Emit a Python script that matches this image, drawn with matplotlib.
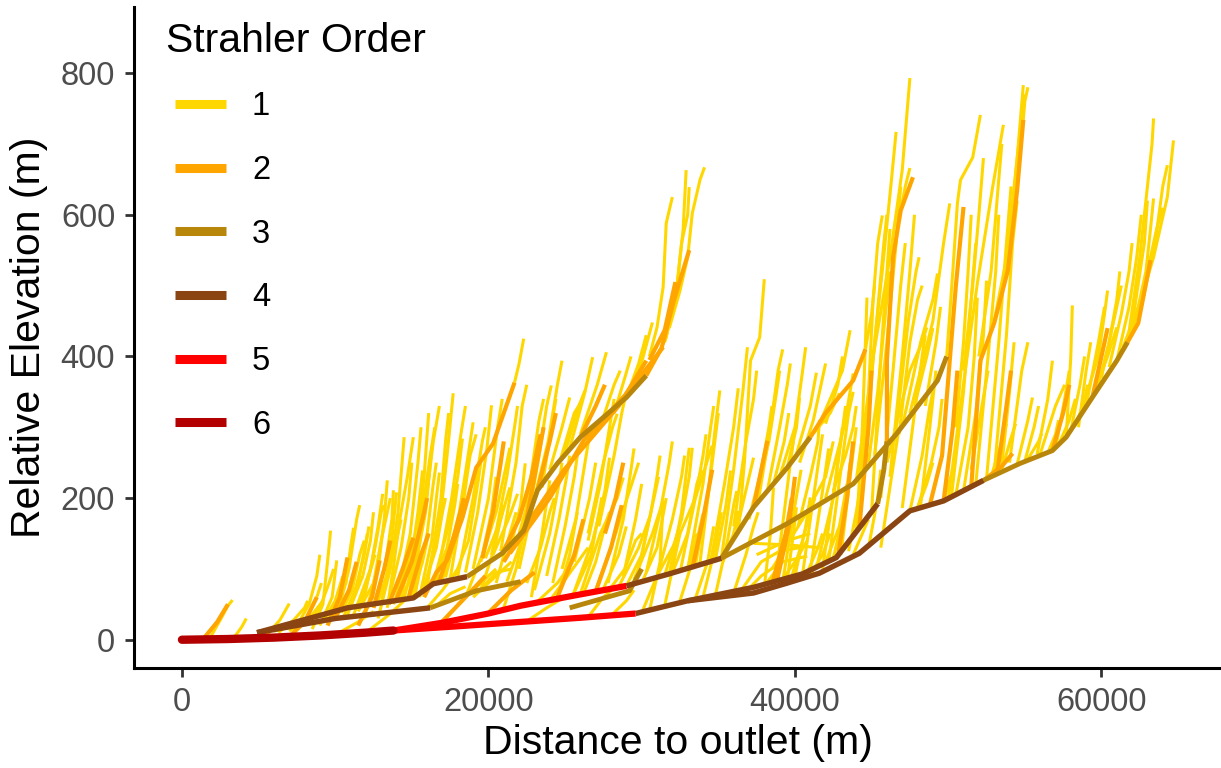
import matplotlib
matplotlib.use("Agg")
import matplotlib.pyplot as plt
from matplotlib.lines import Line2D

plt.rcParams['font.family'] = ['Liberation Sans', 'DejaVu Sans']

# Strahler order -> colour / line width (pt)
orders = [1, 2, 3, 4, 5, 6]
order_colors = ['#FFD700', '#FFA500', '#B8860B', '#8B4513', '#FF0000', '#B30000']
order_widths = [2.2, 3.0, 3.5, 3.9, 4.5, 6.0]

# reaches: lists of (distance to outlet in km, relative elevation in m)
order6_reaches = [
    [(0, 0), (3, 1), (6, 3), (9, 6), (12, 10), (13.8, 13)],
]

order5_reaches = [
    [(13.8, 13), (18, 19), (22, 25), (26, 31), (29.6, 37)],
    [(13.8, 13), (17, 24), (20, 37), (22.1, 48), (25.5, 62), (29, 76)],
]

order4_reaches = [
    [(4.9, 10), (10.8, 45), (15.1, 59), (16.4, 79), (18.6, 89)],
    [(4.9, 10), (10, 30), (16.2, 45)],
    [(29, 76), (31.8, 93), (35.2, 115)],
    [(29.6, 37), (33, 55), (37.3, 66), (39.5, 80), (41.6, 94), (44.2, 122),
     (47.5, 182), (49.7, 196), (52.3, 225)],
    [(33, 55), (37.3, 74), (40.5, 93), (42.7, 116), (44.2, 158), (45.4, 192)],
]

order3_reaches = [
    [(18.6, 89), (20.9, 122), (22.3, 154), (23.2, 211), (24.5, 249), (26, 286),
     (27.5, 314), (29, 342), (30.3, 373)],
    [(16.2, 45), (19.2, 69), (22.1, 82)],
    [(25.3, 45), (29.2, 69), (30, 100)],
    [(35.2, 115), (37.3, 187), (39.5, 243), (41, 286)],
    [(35.2, 115), (39.5, 164), (43.8, 220), (46.6, 290), (49.3, 366), (49.9, 400)],
    [(45.4, 192), (45.8, 240), (46.0, 280)],
    [(52.3, 225), (54.7, 249), (56.8, 267), (57.7, 286), (59.4, 342), (61, 394),
     (61.7, 420)],
]

order2_reaches = [
    [(30.3, 373), (31.3, 412), (32.1, 479), (33.1, 550)],
    [(41, 286), (42, 320), (43.8, 366), (44.6, 410)],
    [(61.7, 420), (62.4, 447), (63.2, 536)],
    [(1.5, 4), (2.3, 25), (3.0, 50)],
    [(9.5, 20), (10.3, 60), (10.8, 116)],
    [(11.5, 20), (12.4, 60), (12.9, 112)],
    [(13.5, 50), (14.4, 100), (15.1, 144)],
    [(14.8, 60), (15.6, 120), (16.1, 150)],
    [(15.8, 60), (16.6, 95), (17.3, 112), (18.3, 172), (19.2, 243), (20.3, 277), (21.7, 363)],
    [(20.9, 122), (22, 170), (22.8, 230), (23.4, 290)],
    [(21.4, 122), (24, 200), (26.2, 281), (29.2, 352), (31.4, 413)],
    [(21, 110), (22.1, 150), (24.9, 239), (26.4, 277), (28.5, 330), (30.3, 394)],
    [(30.5, 395), (31.5, 437), (32.2, 505)],
    [(37.3, 187), (37.9, 250), (38.2, 281)],
    [(46.0, 280), (46.0, 394), (46.4, 540), (46.9, 606), (47.7, 653)],
    [(48.8, 190), (49.6, 260), (50.1, 394), (50.5, 500), (51.0, 611)],
    [(51.5, 215), (52.1, 394), (53, 447), (53.9, 522), (54.5, 635), (54.9, 734)],
    [(17, 26), (18.5, 60), (19.8, 90)],
    [(20, 38), (21.5, 70), (23, 95)],
    [(52.3, 225), (53.5, 245), (54.2, 263)],
    [(12.5, 45), (13.2, 100), (13.6, 140)],
    [(23.2, 211), (24.0, 280), (24.4, 320)],
    [(26, 286), (27, 330), (27.6, 360)],
    [(44.2, 158), (44.8, 300), (45.0, 380)],
    [(49.7, 196), (50.3, 300), (50.6, 380)],
    [(56.8, 267), (57.5, 320), (57.9, 360)],
    [(7.0, 4), (8.0, 25), (8.8, 60)],
    [(27.0, 68), (28.0, 130), (28.7, 190)],
    [(38.5, 78), (39.4, 150), (39.8, 200)],
    [(10.0, 30), (10.9, 70), (11.4, 110)],
    [(14.0, 57), (15.0, 110), (15.7, 170), (16.0, 200)],
    [(16.8, 83), (17.8, 150), (18.4, 200)],
    [(19.6, 115), (20.3, 180), (20.8, 250), (21.0, 280)],
    [(22.4, 160), (23.0, 230), (23.6, 300)],
    [(27.6, 150), (28.3, 200), (28.8, 250)],
    [(33.3, 100), (34.0, 170), (34.6, 240)],
    [(38.8, 80), (39.6, 160), (40.0, 230)],
    [(42.8, 117), (43.4, 200), (43.8, 280)],
    [(53.2, 236), (53.8, 330), (54.1, 380)],
    [(59.4, 342), (60.0, 400), (60.4, 440)],
    [(24.5, 60), (25.6, 120), (26.2, 170)],
]

order1_reaches = [
    [(1.9, 5), (2.5, 28), (3.0, 48), (3.3, 56)],
    [(3.4, 3), (3.9, 18), (4.2, 30)],
    [(5.5, 6), (6.4, 28), (7.0, 51)],
    [(6.3, 10), (7.3, 28), (8.0, 45), (8.2, 55)],
    [(7.0, 12), (8.3, 30), (9.2, 55)],
    [(6, 12), (7.5, 22), (8.5, 35)],
    [(8.5, 15), (9.2, 50), (9.5, 110), (9.7, 154)],
    [(9.0, 20), (9.8, 60), (10.1, 112)],
    [(9.5, 25), (10.4, 70), (10.8, 116)],
    [(9.8, 30), (10.7, 80), (11.0, 130), (11.2, 158)],
    [(10.5, 30), (11.5, 80), (12.1, 150)],
    [(10.8, 35), (11.8, 90), (12.3, 140), (12.5, 180)],
    [(11.5, 40), (12.5, 80), (12.9, 112)],
    [(11.2, 35), (12.3, 100), (12.8, 160), (13.1, 206)],
    [(12, 40), (12.8, 100), (13.2, 170), (13.4, 225)],
    [(12.5, 45), (13.3, 110), (13.7, 170), (13.8, 211)],
    [(13, 50), (13.6, 120), (14.0, 208)],
    [(12.8, 30), (13.6, 100), (14.1, 180), (14.5, 286)],
    [(13.4, 45), (13.8, 102), (14.2, 168), (14.7, 229), (15.1, 286)],
    [(13.8, 50), (14.6, 100), (15.1, 144)],
    [(14.2, 55), (15.0, 120), (15.4, 180), (15.7, 239)],
    [(14.5, 58), (15.3, 130), (15.8, 230), (16.1, 320)],
    [(15.0, 60), (15.7, 110), (16.1, 150)],
    [(15.5, 60), (16.3, 140), (16.6, 200), (16.8, 236)],
    [(15.8, 70), (16.8, 160), (17.3, 260), (17.7, 348)],
    [(16.4, 80), (17.4, 160), (18.0, 230), (18.3, 284)],
    [(17.0, 85), (18.1, 180), (18.6, 250), (19.0, 307)],
    [(21.7, 363), (22.0, 390), (22.3, 425)],
    [(18.5, 95), (19.3, 180), (19.9, 270), (20.2, 331)],
    [(19.5, 110), (20.5, 180), (21.1, 240), (21.4, 271)],
    [(19.8, 115), (20.8, 170), (21.4, 215)],
    [(20.3, 120), (21.3, 170), (21.9, 206)],
    [(21.5, 135), (22.1, 190), (22.4, 249)],
    [(22.0, 150), (22.8, 210), (23.2, 257)],
    [(22.5, 160), (23.3, 260), (23.8, 330), (24.1, 359)],
    [(23.0, 200), (23.9, 280), (24.5, 360), (24.8, 394)],
    [(22.8, 60), (23.5, 150), (24.0, 225)],
    [(21, 45), (21.8, 100), (22.3, 150)],
    [(24.0, 240), (24.8, 300), (25.3, 342)],
    [(24.7, 255), (25.6, 320), (26.0, 334)],
    [(25.0, 265), (25.9, 330), (26.3, 352)],
    [(25.3, 270), (26.3, 350), (26.8, 399)],
    [(26.0, 290), (27.1, 360), (27.7, 406)],
    [(26.5, 150), (27.5, 250), (28.1, 300), (28.4, 319)],
    [(25.5, 62), (26.8, 140), (27.6, 210), (27.9, 257)],
    [(26.0, 65), (27.3, 150), (28.4, 200), (28.8, 229)],
    [(25.5, 62), (26.7, 120), (27.4, 201)],
    [(27.0, 70), (28.3, 150), (29.2, 210), (29.8, 250)],
    [(28.5, 75), (29.8, 130), (30.5, 172)],
    [(29.5, 85), (30.7, 150), (31.4, 196)],
    [(31.0, 400), (31.6, 427), (32.3, 498), (32.7, 578), (32.9, 663)],
    [(31.5, 420), (32.2, 480), (32.6, 560), (33.0, 600), (33.1, 639)],
    [(31.8, 440), (32.5, 493), (33.0, 540), (33.3, 602), (33.8, 649), (34.1, 667)],
    [(30.5, 400), (31.0, 441), (31.4, 498), (31.6, 588), (32.0, 625)],
    [(29.4, 350), (30.1, 400), (30.7, 448)],
    [(29.0, 342), (29.8, 390), (30.3, 430)],
    [(31.8, 93), (32.6, 180), (33.1, 271)],
    [(31.5, 91), (32.6, 170), (33.1, 230), (33.3, 271)],
    [(32.5, 55), (33.3, 110), (33.6, 150)],
    [(33.0, 100), (33.7, 150), (34.0, 178)],
    [(31.5, 48), (32.2, 120), (32.5, 150)],
    [(30.5, 40), (31.2, 110), (31.4, 196)],
    [(30, 38), (31, 90), (32.5, 150), (33.5, 200), (34.6, 274)],
    [(33.5, 105), (34.3, 200), (34.8, 300), (35.1, 352)],
    [(34.5, 110), (35.4, 220), (36.0, 300), (36.3, 355)],
    [(35.2, 115), (36.0, 240), (36.6, 350), (36.9, 413)],
    [(34.8, 112), (35.5, 190), (35.8, 239)],
    [(35.3, 110), (36.0, 150), (36.3, 182)],
    [(36.2, 155), (36.9, 220), (37.3, 257)],
    [(36.3, 150), (36.7, 250), (37.1, 394), (37.7, 427), (38.0, 509)],
    [(37.3, 187), (38.3, 280), (38.8, 350), (39.0, 380)],
    [(38.0, 74), (38.4, 150), (38.6, 215)],
    [(39.5, 85), (39.9, 150), (40.1, 187)],
    [(40.0, 90), (40.7, 160), (41.0, 201)],
    [(40.8, 95), (41.5, 130), (41.8, 150)],
    [(39.5, 243), (40.1, 300), (40.3, 342)],
    [(39.0, 230), (40.0, 300), (40.5, 380), (40.7, 413)],
    [(40.0, 255), (41.0, 330), (41.4, 377)],
    [(41.0, 286), (42.3, 320), (42.9, 348)],
    [(41.5, 300), (43.1, 380), (43.6, 437)],
    [(42.0, 200), (43.2, 300), (43.8, 376)],
    [(37.3, 136), (39.5, 134), (41.6, 130)],
    [(37.5, 120), (39.5, 140), (41, 150)],
    [(38.5, 100), (40.5, 170), (42, 230), (42.5, 280)],
    [(41.5, 110), (42.5, 200), (43.0, 280), (43.3, 330)],
    [(42.5, 115), (43.2, 180), (43.6, 250)],
    [(44.3, 235), (45.1, 399), (46.2, 540), (47.0, 663), (47.5, 793)],
    [(44.0, 225), (45.0, 380), (45.7, 521), (46.3, 650), (46.6, 717)],
    [(46.9, 606), (47.2, 640), (47.5, 666)],
    [(44.2, 160), (44.8, 350), (45.1, 480), (45.4, 560), (45.7, 599)],
    [(44.0, 150), (44.4, 300), (44.6, 420), (44.7, 483)],
    [(44.6, 410), (45.0, 460), (45.2, 500)],
    [(46.0, 250), (47.5, 380), (48.3, 420), (48.6, 441)],
    [(47.0, 300), (48.2, 420), (49.0, 480), (49.3, 517)],
    [(47.5, 182), (48.3, 260), (48.8, 330), (49.0, 350)],
    [(48.0, 186), (48.9, 250), (49.4, 300), (49.6, 340)],
    [(47.5, 320), (49.0, 450), (49.7, 560), (50.1, 616)],
    [(49.7, 196), (50.3, 240), (50.6, 284)],
    [(50.5, 205), (51.3, 300), (51.7, 400), (51.9, 483)],
    [(51.0, 210), (51.8, 320), (52.3, 430), (52.5, 507)],
    [(49.9, 400), (50.3, 520), (50.6, 616), (50.8, 649), (51.6, 681), (52.1, 741)],
    [(50.0, 198), (51.2, 394), (51.9, 503), (52.9, 639), (53.6, 727)],
    [(54.9, 734), (55.0, 760), (55.2, 780)],
    [(53, 450), (54, 560), (54.5, 680), (54.9, 783)],
    [(52.8, 230), (53.5, 280), (53.8, 305)],
    [(53.5, 240), (54.1, 285), (54.4, 305)],
    [(54.5, 248), (55.2, 310), (55.5, 342)],
    [(55.2, 255), (55.9, 280), (56.1, 291)],
    [(55.8, 262), (56.5, 340), (56.8, 394)],
    [(57.7, 286), (58.0, 400), (58.1, 472)],
    [(58.5, 310), (59.8, 400), (60.2, 460), (60.4, 493)],
    [(59.4, 342), (60.4, 400), (61.0, 441)],
    [(61.7, 420), (62.5, 540), (63.0, 640), (63.3, 700), (63.4, 736)],
    [(61.4, 413), (62.5, 475), (63.4, 540), (64.3, 625), (64.7, 705)],
    [(62.0, 430), (62.9, 520), (63.2, 580), (63.4, 623)],
    [(56, 262), (57, 330), (57.6, 360)],
    [(60.0, 370), (60.8, 450), (61.3, 500)],
    [(58.5, 300), (59.0, 380), (59.3, 420)],
    [(16, 45), (17, 70), (18, 100)],
    [(18, 50), (19.5, 80), (20.5, 100)],
    [(19, 60), (20.5, 90), (21.5, 110)],
    [(23, 50), (24.5, 80), (25.5, 110)],
    [(24, 55), (25.5, 100), (26.5, 130)],
    [(12, 10), (13.5, 35), (14.5, 55)],
    [(10, 7), (11.5, 25), (12.5, 40)],
    [(7.5, 20), (8.3, 50), (8.8, 90), (9.0, 120)],
    [(8.0, 25), (8.8, 60), (9.1, 80)],
    [(10.2, 40), (10.9, 100), (11.4, 170), (11.6, 190)],
    [(11.0, 45), (11.9, 120), (12.2, 160)],
    [(11.8, 50), (12.6, 130), (13.0, 180), (13.2, 190)],
    [(12.3, 55), (13.0, 140), (13.5, 190), (13.6, 200)],
    [(14.0, 58), (14.9, 150), (15.4, 250), (15.6, 300)],
    [(14.8, 60), (15.6, 170), (16.2, 260), (16.5, 300)],
    [(15.2, 62), (16.0, 150), (16.4, 220), (16.6, 250)],
    [(16.0, 75), (16.9, 200), (17.2, 280), (17.4, 320)],
    [(16.6, 82), (17.6, 200), (18.2, 290), (18.5, 330)],
    [(17.5, 86), (18.4, 200), (18.8, 260), (19.2, 290)],
    [(17.2, 88), (17.9, 150), (18.4, 200)],
    [(18.0, 90), (19.0, 200), (19.6, 280), (19.8, 300)],
    [(19.0, 100), (20.0, 200), (20.6, 300), (20.9, 340)],
    [(20.2, 120), (21.2, 230), (21.7, 300), (21.9, 330)],
    [(20.8, 125), (21.8, 250), (22.2, 330), (22.5, 360)],
    [(22.3, 154), (22.9, 250), (23.3, 310), (23.6, 340)],
    [(23.5, 215), (24.1, 300), (24.4, 340)],
    [(22.0, 100), (22.8, 180), (23.0, 200)],
    [(23.0, 70), (24.0, 150), (24.6, 220), (24.8, 250)],
    [(24.2, 80), (25.0, 160), (25.6, 230), (25.8, 260)],
    [(26.5, 140), (27.3, 220), (27.9, 300), (28.2, 340)],
    [(27.2, 160), (28.2, 260), (28.7, 320), (29.0, 350)],
    [(27.8, 80), (28.8, 170), (29.3, 240), (29.5, 270)],
    [(28.8, 90), (29.6, 170), (30.0, 220)],
    [(29.8, 100), (30.6, 180), (31.0, 230), (31.2, 260)],
    [(30.3, 95), (31.2, 180), (31.8, 250), (32.0, 280)],
    [(24.5, 60), (25.3, 120), (25.8, 180)],
    [(32.5, 95), (33.5, 200), (34.0, 260), (34.2, 290)],
    [(33.0, 100), (34.0, 220), (34.5, 300), (34.7, 330)],
    [(33.8, 108), (34.6, 250), (35.0, 320)],
    [(34.0, 60), (34.8, 130), (35.2, 180)],
    [(34.8, 62), (35.6, 140), (36.0, 190), (36.2, 210)],
    [(36.0, 160), (36.8, 280), (37.3, 340), (37.5, 380)],
    [(37.6, 195), (38.4, 300), (38.9, 380), (39.2, 410)],
    [(38.2, 210), (39.0, 300), (39.5, 360), (39.7, 390)],
    [(38.7, 80), (39.3, 180), (39.7, 250), (39.9, 280)],
    [(39.2, 82), (40.0, 190), (40.4, 240)],
    [(40.5, 93), (41.2, 200), (41.6, 260), (41.8, 290)],
    [(41.0, 98), (41.8, 210), (42.2, 270)],
    [(41.8, 100), (42.6, 220), (43.1, 300)],
    [(42.2, 110), (43.0, 240), (43.5, 320), (43.8, 350)],
    [(43.0, 120), (43.6, 230), (44.0, 300)],
    [(36.5, 70), (37.8, 110), (39.0, 125), (40.3, 130)],
    [(38.0, 76), (39.2, 110), (40.8, 118)],
    [(40.3, 250), (41.2, 310), (41.7, 360), (42.0, 390)],
    [(42.0, 305), (42.8, 360), (43.1, 400)],
    [(44.5, 240), (45.2, 420), (45.8, 560), (46.0, 600)],
    [(45.0, 180), (45.6, 400), (46.0, 520), (46.2, 580)],
    [(45.6, 200), (46.4, 380), (46.9, 500), (47.2, 560)],
    [(46.2, 230), (47.0, 400), (47.5, 520), (47.8, 600)],
    [(46.5, 280), (47.4, 450), (47.9, 520), (48.1, 540)],
    [(47.0, 186), (47.8, 320), (48.3, 400), (48.5, 430)],
    [(48.2, 190), (48.8, 300), (49.2, 380)],
    [(48.5, 330), (49.2, 420), (49.5, 470)],
    [(45.6, 130), (46.3, 230), (46.8, 300)],
    [(44.8, 130), (45.4, 200), (45.6, 240)],
    [(50.2, 200), (51.0, 350), (51.5, 480), (51.8, 560)],
    [(51.8, 220), (52.6, 400), (53.1, 520), (53.3, 600)],
    [(52.5, 227), (53.3, 420), (53.8, 560), (54.1, 640)],
    [(53.0, 235), (53.8, 430), (54.2, 560), (54.5, 620)],
    [(53.6, 500), (54.3, 640), (54.7, 720), (55.0, 770)],
    [(51.5, 240), (52.2, 330), (52.6, 380)],
    [(55.0, 252), (55.6, 300), (55.9, 330)],
    [(57.0, 270), (57.6, 340), (57.9, 380)],
    [(58.0, 295), (58.6, 360), (58.9, 400)],
    [(59.0, 330), (59.8, 420), (60.2, 470)],
    [(60.5, 385), (61.3, 460), (61.8, 520), (62.0, 560)],
    [(61.0, 394), (61.8, 470), (62.3, 540), (62.6, 600)],
    [(62.0, 445), (62.8, 560), (63.0, 620)],
    [(62.6, 470), (63.5, 560), (64.0, 640), (64.3, 670)],
    [(56.5, 264), (57.0, 290), (57.2, 310)],
    [(8.0, 20), (9.0, 45), (9.6, 80), (9.9, 100)],
    [(9.2, 25), (10.0, 55), (10.5, 90)],
    [(10.4, 38), (11.1, 70), (11.6, 120), (11.9, 140)],
    [(11.6, 48), (12.2, 90), (12.6, 120)],
    [(12.8, 55), (13.5, 100), (14.0, 140), (14.3, 170)],
    [(13.5, 57), (14.3, 130), (14.8, 200), (15.0, 250)],
    [(14.3, 58), (15.2, 100), (15.9, 180), (16.3, 270)],
    [(15.0, 70), (15.9, 190), (16.4, 280), (16.8, 330)],
    [(15.8, 75), (16.6, 130), (17.0, 180), (17.2, 200)],
    [(16.5, 85), (17.3, 130), (17.8, 190), (18.0, 220)],
    [(17.8, 90), (18.7, 140), (19.3, 220), (19.5, 250)],
    [(18.5, 60), (19.6, 120), (20.2, 180), (20.5, 230)],
    [(19.5, 70), (20.4, 130), (21.0, 190)],
    [(20.5, 80), (21.4, 150), (21.8, 180)],
    [(21.2, 82), (22.0, 130), (22.6, 200), (22.9, 240)],
    [(22.5, 80), (23.4, 130), (24.0, 180), (24.3, 200)],
    [(23.8, 90), (24.6, 170), (25.1, 230), (25.3, 260)],
    [(24.8, 100), (25.7, 170), (26.3, 250), (26.6, 290)],
    [(25.6, 110), (26.6, 200), (27.0, 250)],
    [(26.2, 65), (27.0, 110), (27.6, 160), (27.9, 180)],
    [(27.5, 72), (28.5, 120), (29.0, 160)],
    [(28.0, 74), (28.9, 100), (29.6, 140), (30.0, 150)],
    [(29.0, 76), (30.0, 120), (30.8, 200), (31.1, 230)],
    [(30.0, 80), (31.0, 130), (31.6, 200)],
    [(31.0, 88), (32.0, 170), (32.6, 230), (32.8, 260)],
    [(32.0, 94), (33.0, 150), (33.6, 220), (33.9, 240)],
    [(33.5, 58), (34.3, 110), (34.7, 160)],
    [(27.5, 314), (28.2, 360), (28.6, 380)],
    [(28.2, 320), (28.9, 370), (29.3, 400)],
    [(36.0, 66), (36.8, 120), (37.3, 160), (37.6, 180)],
    [(37.0, 170), (37.8, 240), (38.3, 300), (38.5, 330)],
    [(38.6, 220), (39.3, 280), (39.6, 320)],
    [(39.8, 90), (40.5, 140), (41.0, 180), (41.3, 200)],
    [(40.2, 160), (41.0, 230), (41.5, 280), (41.6, 310)],
    [(42.5, 210), (43.3, 260), (43.8, 300), (44.0, 330)],
    [(43.5, 125), (44.0, 180), (44.3, 220)],
    [(42.0, 110), (42.9, 160), (43.4, 220)],
    [(44.8, 250), (45.4, 350), (45.9, 460), (46.2, 520)],
    [(45.2, 260), (46.0, 420), (46.6, 560), (46.9, 640)],
    [(46.8, 290), (47.5, 420), (48.0, 480), (48.3, 500)],
    [(47.8, 330), (48.6, 400), (49.0, 440)],
    [(48.0, 186), (48.6, 220), (49.0, 250)],
    [(50.5, 300), (51.0, 420), (51.3, 520), (51.5, 600)],
    [(51.0, 380), (51.6, 500), (52.0, 600), (52.3, 680)],
    [(52.0, 400), (52.8, 520), (53.3, 650), (53.5, 700)],
    [(53.5, 247), (54.0, 350), (54.3, 420)],
    [(54.0, 250), (54.8, 380), (55.2, 420)],
    [(58.2, 300), (58.8, 330), (59.1, 360)],
    [(59.8, 360), (60.5, 420), (61.0, 480), (61.2, 520)],
    [(61.9, 430), (62.8, 500), (63.6, 580), (64.0, 610)],
    [(57.3, 280), (57.9, 310), (58.3, 340)],
    [(36.8, 68), (37.8, 90), (38.8, 105)],
    [(39.0, 80), (40.0, 110), (40.8, 140)],
    [(41.0, 92), (41.8, 120), (42.3, 150)],
    [(43.8, 120), (44.4, 150), (44.8, 170)],
    [(16.5, 46), (17.5, 65), (18.5, 75)],
    [(19.5, 72), (20.5, 95), (21.5, 100)],
    [(26.5, 32), (27.5, 60), (28.3, 75)],
    [(28.0, 34), (29.0, 55), (29.5, 70)],
    [(22.5, 26), (23.8, 45), (24.8, 58)],
]

reaches_by_order = [order1_reaches, order2_reaches, order3_reaches,
                    order4_reaches, order5_reaches, order6_reaches]

fig = plt.figure(figsize=(12.21, 7.68), dpi=100)
ax = fig.add_axes([0.1097, 0.1305, 0.8903, 0.861])

for i, reaches in enumerate(reaches_by_order):
    cap = 'round' if orders[i] == 6 else 'butt'
    for reach in reaches:
        xs = [p[0] * 1000 for p in reach]
        ys = [p[1] for p in reach]
        ax.plot(xs, ys, color=order_colors[i], lw=order_widths[i],
                solid_capstyle=cap, solid_joinstyle='round', zorder=2 + i)

ax.set_xlim(-3132, 67800)
ax.set_ylim(-39.6, 894)
ax.set_xticks([0, 20000, 40000, 60000])
ax.set_yticks([0, 200, 400, 600, 800])

for side in ['top', 'right']:
    ax.spines[side].set_visible(False)
for side in ['left', 'bottom']:
    ax.spines[side].set_linewidth(2.2)
    ax.spines[side].set_color('black')
ax.tick_params(length=6.5, width=2.0, color='#333333', labelcolor='#4D4D4D',
               labelsize=23.5, pad=7)

ax.set_xlabel('Distance to outlet (m)', fontsize=29.5, labelpad=5)
ax.set_ylabel('Relative Elevation (m)', fontsize=29.5, labelpad=9)

handles = [Line2D([0], [0], color=c, lw=6.5, solid_capstyle='butt') for c in order_colors]
ax.legend(handles, [str(o) for o in orders],
          loc='upper left', bbox_to_anchor=(0.1433, 0.881),
          bbox_transform=fig.transFigure, frameon=False,
          fontsize=23.5, handlelength=1.56, handletextpad=0.8,
          labelspacing=1.0, borderpad=0, borderaxespad=0)
fig.text(0.136, 0.9323, 'Strahler Order', fontsize=29.5, ha='left', va='baseline')

fig.savefig('out.png', dpi=100)
